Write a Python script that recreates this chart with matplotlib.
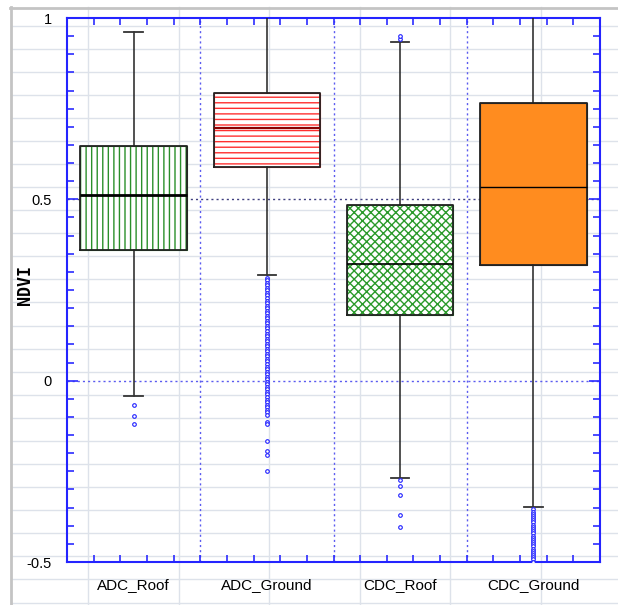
import matplotlib.pyplot as plt
import numpy as np
from matplotlib.lines import Line2D
from matplotlib.ticker import MultipleLocator

plt.rcParams['font.family'] = ['Liberation Sans', 'DejaVu Sans']
plt.rcParams['axes.unicode_minus'] = False

# --- data ---
categories = ['ADC_Roof', 'ADC_Ground', 'CDC_Roof', 'CDC_Ground']
q1 = [0.361, 0.588, 0.182, 0.320]
median = [0.511, 0.698, 0.323, 0.535]
q3 = [0.646, 0.794, 0.483, 0.767]
whisker_low = [-0.041, 0.290, -0.268, -0.349]
whisker_high = [0.962, 1.05, 0.935, 1.05]

fliers_adc_roof = [-0.067, -0.098, -0.119]
fliers_adc_ground = [0.284, 0.277, 0.270, 0.263, 0.256, 0.249, 0.242, 0.235, 0.228, 0.221,
                     0.214, 0.207, 0.200, 0.193, 0.186, 0.179, 0.172, 0.165, 0.158, 0.151,
                     0.144, 0.137, 0.130, 0.123, 0.116, 0.109, 0.102, 0.095, 0.088, 0.081,
                     0.074, 0.067, 0.060, 0.053, 0.046, 0.039, 0.032, 0.025, 0.018, 0.011,
                     0.004, -0.003, -0.010, -0.017, -0.024, -0.031, -0.038, -0.045, -0.052,
                     -0.059, -0.066, -0.073, -0.080, -0.087, -0.094,
                     -0.115, -0.119, -0.165, -0.195, -0.205, -0.250]
fliers_cdc_roof = [0.942, 0.951, -0.274, -0.290, -0.315, -0.370, -0.403]
fliers_cdc_ground = [-0.355, -0.361, -0.367, -0.373, -0.379, -0.385, -0.391, -0.397, -0.403,
                     -0.409, -0.415, -0.421, -0.427, -0.433, -0.439, -0.445, -0.451, -0.457,
                     -0.463, -0.469, -0.475, -0.481, -0.487, -0.493, -0.499]
fliers = [fliers_adc_roof, fliers_adc_ground, fliers_cdc_roof, fliers_cdc_ground]

hatches = ['|||', '---', 'xxxx', '']
hatch_colors = ['#2a8f2a', '#ff3030', '#2a9a2a', '#222222']
face_colors = ['white', 'white', 'white', '#ff8c1f']
median_colors = ['black', '#8b0000', 'black', 'black']
median_widths = [2.0, 1.6, 1.2, 1.0]

W, H = 618, 605
fig = plt.figure(figsize=(W / 100, H / 100), dpi=100)

# spreadsheet background seen through the transparent chart
grid_c = '#dde2ea'
for y in np.arange(25.5, H, 23.08):
    fig.add_artist(Line2D([11 / W, 1], [1 - y / H] * 2, color=grid_c, lw=1,
                          zorder=-2, transform=fig.transFigure))
for x in np.arange(88, W, 90.6):
    fig.add_artist(Line2D([x / W] * 2, [0, 1 - 7 / H], color=grid_c, lw=1,
                          zorder=-2, transform=fig.transFigure))
fig.add_artist(Line2D([10.5 / W] * 2, [0, 1 - 7 / H], color='#c4c4c4', lw=2,
                      zorder=-1, transform=fig.transFigure))
fig.add_artist(Line2D([10 / W, 1], [1 - 7.5 / H] * 2, color='#c4c4c4', lw=2,
                      zorder=-1, transform=fig.transFigure))

ax = fig.add_axes([67 / W, 1 - 562 / H, (600 - 67) / W, (562 - 18) / H])
ax.set_facecolor('none')

positions = np.arange(1, len(categories) + 1)
stats = [dict(label=c, q1=a, med=m, q3=b, whislo=lo, whishi=hi, fliers=f)
         for c, a, m, b, lo, hi, f in zip(categories, q1, median, q3,
                                         whisker_low, whisker_high, fliers)]

# guide lines (behind boxes)
blue_dot = dict(color='#5b5bf0', lw=1, linestyle=(0, (1.5, 2.2)), zorder=1)
for b in (positions[:-1] + positions[1:]) / 2:
    ax.axvline(b, **blue_dot)
ax.axhline(0, **blue_dot)
ax.axhline(0.5, color='#404080', lw=1, linestyle=(0, (1.5, 2.2)), zorder=1)

# hatched / filled box bodies
fill = ax.bxp(stats, positions=positions, widths=0.8, patch_artist=True,
              showcaps=False, showfliers=False,
              whiskerprops=dict(linestyle='none'),
              medianprops=dict(linestyle='none'),
              boxprops=dict(lw=0.8), zorder=2)
for p, h, hc, fc in zip(fill['boxes'], hatches, hatch_colors, face_colors):
    p.set_facecolor(fc)
    p.set_edgecolor(hc)
    p.set_hatch(h)

# outlines, whiskers, medians and outliers
out = ax.bxp(stats, positions=positions, widths=0.8, capwidths=0.14,
             boxprops=dict(color='#222222', lw=1.3),
             whiskerprops=dict(color='#222222', lw=1.1),
             capprops=dict(color='#333333', lw=1.3),
             medianprops=dict(color='black', lw=1),
             flierprops=dict(marker='o', markersize=2.6, markerfacecolor='white',
                             markeredgecolor='#2020ff', markeredgewidth=0.8,
                             linestyle='none'),
             zorder=3)
for m, c, w in zip(out['medians'], median_colors, median_widths):
    m.set_color(c)
    m.set_linewidth(w)

ax.set_xlim(0.5, 4.5)
ax.set_ylim(-0.5, 1)

ax.set_xticks(positions, categories)
ax.xaxis.set_minor_locator(MultipleLocator(0.2, offset=0.5))
ax.set_yticks([-0.5, 0, 0.5, 1], ['-0.5', '0', '0.5', '1'])
ax.yaxis.set_minor_locator(MultipleLocator(0.05))

tick_c = '#2b2bff'
ax.tick_params(which='both', direction='in', top=True, right=True, color=tick_c,
               width=1.2, labelcolor='black')
ax.tick_params(axis='x', which='major', length=0, pad=11.5, labelsize=11)
ax.tick_params(axis='y', which='major', length=8, pad=10.8, labelsize=10.5)
ax.tick_params(which='minor', length=5)

for s in ax.spines.values():
    s.set_color('#2424ff')
    s.set_linewidth(1.5)

fig.text(25 / W, 1 - 285 / H, 'NDVI', rotation=90, ha='center', va='center',
         family='DejaVu Sans Mono', weight='bold', fontsize=12)

fig.savefig('out.png', dpi=100)
